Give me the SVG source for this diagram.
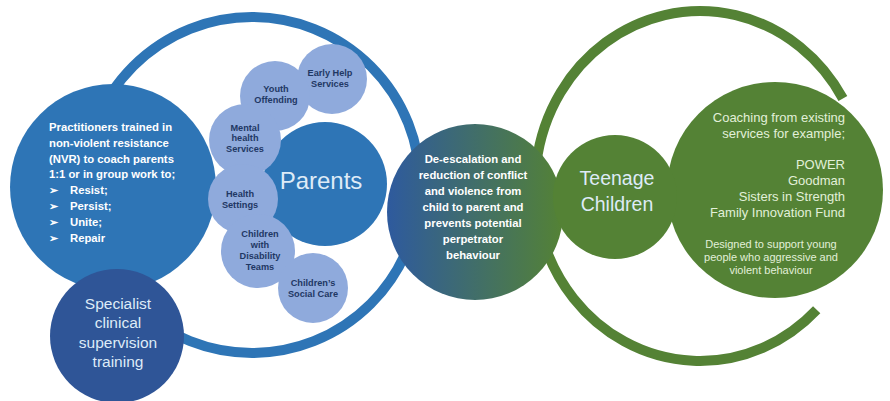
<svg xmlns="http://www.w3.org/2000/svg" width="890" height="401" viewBox="0 0 890 401">
<defs>
<linearGradient id="deesc" x1="0" y1="0" x2="1" y2="0">
<stop offset="0" stop-color="#2e5a9e"/>
<stop offset="1" stop-color="#548235"/>
</linearGradient>
<style>
.ring{fill:none;stroke-width:10}
.blue{fill:#2e75b6}
.dark{fill:#2f5597}
.light{fill:#8faadc}
.green{fill:#548235}
.lt{font-family:"Liberation Sans",Arial,sans-serif;font-weight:bold;font-size:9.2px;fill:#1f3864;text-anchor:middle}
.wb{font-family:"Liberation Sans",Arial,sans-serif;font-weight:bold;font-size:11.3px;fill:#ffffff}
.big{font-family:"Liberation Sans",Arial,sans-serif;fill:#deebf7;text-anchor:middle}
.gt{font-family:"Liberation Sans",Arial,sans-serif;fill:#e2f0d9}
</style>
</defs>
<rect width="890" height="401" fill="#ffffff"/>
<g id="connectors">
<ellipse cx="252" cy="185" rx="168" ry="168" class="ring" stroke="#2e75b6"/>
<path d="M816.7,309.7 A165,175 0 1 1 842.9,98.5" class="ring" stroke="#548235" stroke-width="9"/>
</g>
<g id="practitioners">
<circle cx="113" cy="187" r="103" class="blue"/>
<text class="wb" x="49" y="131">Practitioners trained in</text>
<text class="wb" x="49" y="147">non-violent resistance</text>
<text class="wb" x="49" y="163">(NVR) to coach parents</text>
<text class="wb" x="49" y="178">1:1 or in group work to;</text>
<text class="wb" x="49" y="194" font-family="DejaVu Sans" font-weight="normal">➢</text>
<text class="wb" x="70" y="194">Resist;</text>
<text class="wb" x="49" y="210" font-family="DejaVu Sans" font-weight="normal">➢</text>
<text class="wb" x="70" y="210">Persist;</text>
<text class="wb" x="49" y="226" font-family="DejaVu Sans" font-weight="normal">➢</text>
<text class="wb" x="70" y="226">Unite;</text>
<text class="wb" x="49" y="242" font-family="DejaVu Sans" font-weight="normal">➢</text>
<text class="wb" x="70" y="242">Repair</text>
</g>
<g id="specialist">
<circle cx="117" cy="336" r="67" class="dark"/>
<text class="big" x="118" y="309" font-size="15.5" fill="#ffffff">Specialist</text>
<text class="big" x="118" y="328" font-size="15.5" fill="#ffffff">clinical</text>
<text class="big" x="118" y="348" font-size="15.5" fill="#ffffff">supervision</text>
<text class="big" x="118" y="367" font-size="15.5" fill="#ffffff">training</text>
</g>
<g id="parents">
<circle cx="325" cy="184" r="62" class="blue"/>
<text class="big" x="321" y="189" font-size="24">Parents</text>
</g>
<g id="early-help">
<circle cx="332" cy="79" r="35" class="light"/>
<text class="lt" x="330" y="76">Early Help</text>
<text class="lt" x="330" y="87">Services</text>
</g>
<g id="youth-offending">
<circle cx="275" cy="96" r="35" class="light"/>
<text class="lt" x="276" y="92">Youth</text>
<text class="lt" x="276" y="103">Offending</text>
</g>
<g id="mental-health">
<circle cx="245" cy="140" r="36" class="light"/>
<text class="lt" x="245" y="131">Mental</text>
<text class="lt" x="245" y="141">health</text>
<text class="lt" x="245" y="152">Services</text>
</g>
<g id="health-settings">
<circle cx="243" cy="199" r="35" class="light"/>
<text class="lt" x="240" y="197">Health</text>
<text class="lt" x="240" y="208">Settings</text>
</g>
<g id="disability-teams">
<circle cx="258" cy="251" r="37" class="light"/>
<text class="lt" x="260" y="237">Children</text>
<text class="lt" x="260" y="248">with</text>
<text class="lt" x="260" y="259">Disability</text>
<text class="lt" x="260" y="270">Teams</text>
</g>
<g id="social-care">
<circle cx="313" cy="288" r="35" class="light"/>
<text class="lt" x="313" y="286">Children’s</text>
<text class="lt" x="313" y="297">Social Care</text>
</g>
<g id="de-escalation">
<circle cx="475" cy="212" r="88" fill="url(#deesc)"/>
<g class="wb" text-anchor="middle" fill="#f0f5ea">
<text x="473" y="163">De-escalation and</text>
<text x="473" y="179">reduction of conflict</text>
<text x="473" y="195">and violence from</text>
<text x="473" y="211">child to parent and</text>
<text x="473" y="227">prevents potential</text>
<text x="473" y="243">perpetrator</text>
<text x="473" y="259">behaviour</text>
</g>
</g>
<g id="coaching">
<circle cx="775" cy="190" r="108" class="green"/>
<g class="gt" font-size="13" text-anchor="end">
<text x="845" y="122">Coaching from existing</text>
<text x="845" y="138">services for example;</text>
<text x="845" y="169">POWER</text>
<text x="845" y="185">Goodman</text>
<text x="845" y="201">Sisters in Strength</text>
<text x="845" y="217">Family Innovation Fund</text>
</g>
<g class="gt" font-size="11" text-anchor="middle">
<text x="771" y="248">Designed to support young</text>
<text x="771" y="261">people who aggressive and</text>
<text x="771" y="274">violent behaviour</text>
</g>
</g>
<g id="teenage">
<circle cx="615" cy="197" r="62" class="green"/>
<text class="big" x="617" y="185" font-size="19.5" fill="#e2f0d9">Teenage</text>
<text class="big" x="617" y="211" font-size="19.5" fill="#e2f0d9">Children</text>
</g>
</svg>
